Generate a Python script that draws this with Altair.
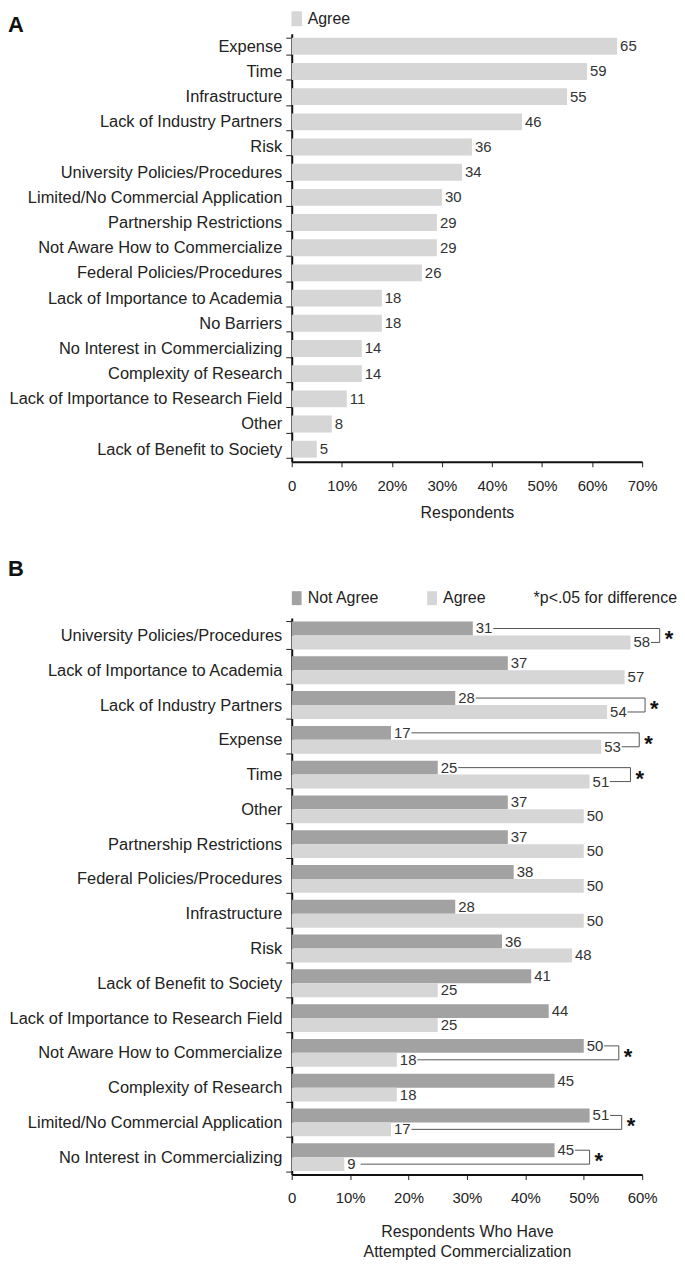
import altair as alt
import pandas as pd

# ---------------- Panel A data ----------------
a_categories = [
    "Expense", "Time", "Infrastructure", "Lack of Industry Partners", "Risk",
    "University Policies/Procedures", "Limited/No Commercial Application",
    "Partnership Restrictions", "Not Aware How to Commercialize",
    "Federal Policies/Procedures", "Lack of Importance to Academia", "No Barriers",
    "No Interest in Commercializing", "Complexity of Research",
    "Lack of Importance to Research Field", "Other", "Lack of Benefit to Society",
]
a_values = [65, 59, 55, 46, 36, 34, 30, 29, 29, 26, 18, 18, 14, 14, 11, 8, 5]

# ---------------- Panel B data ----------------
b_categories = [
    "University Policies/Procedures", "Lack of Importance to Academia",
    "Lack of Industry Partners", "Expense", "Time", "Other",
    "Partnership Restrictions", "Federal Policies/Procedures", "Infrastructure",
    "Risk", "Lack of Benefit to Society", "Lack of Importance to Research Field",
    "Not Aware How to Commercialize", "Complexity of Research",
    "Limited/No Commercial Application", "No Interest in Commercializing",
]
b_not_agree = [31, 37, 28, 17, 25, 37, 37, 38, 28, 36, 41, 44, 50, 45, 51, 45]
b_agree = [58, 57, 54, 53, 51, 50, 50, 50, 50, 48, 25, 25, 18, 18, 17, 9]
b_significant = [True, False, True, True, True, False, False, False, False,
                 False, False, False, True, False, True, True]
b_bracket = [63, None, 60.5, 59.5, 58, None, None, None, None,
             None, None, None, 56, None, 56.5, 51]
groups = ["Not Agree", "Agree"]

FONT = "Liberation Sans"
TXT = "#222222"

# ---------------- Panel A ----------------
df_a = pd.DataFrame({"cat": a_categories, "value": a_values, "key": "Agree"})

rect_path = "M-0.7,-1H0.7V1H-0.7Z"

ya = alt.Y("cat:N", sort=a_categories,
           scale=alt.Scale(paddingInner=0.33, paddingOuter=0.165),
           axis=alt.Axis(title=None, tickBand="extent"))
xa = alt.X("value:Q", scale=alt.Scale(domain=[0, 70], nice=False),
           axis=alt.Axis(values=list(range(0, 71, 10)),
                         labelExpr="datum.value == 0 ? '0' : datum.value + '%'",
                         title="Respondents", grid=False, labelPadding=12, titlePadding=11))

bars_a = alt.Chart(df_a).mark_bar().encode(
    x=xa, y=ya,
    color=alt.Color("key:N", scale=alt.Scale(domain=["Agree"], range=["#d6d6d6"]),
                    legend=alt.Legend(title=None, orient="none", legendX=-3, legendY=-23,
                                      direction="horizontal", symbolType=rect_path,
                                      symbolSize=225, labelOffset=3)),
)
labels_a = alt.Chart(df_a).mark_text(align="left", baseline="middle", dx=3, fontSize=15,
                                     font=FONT, color="#333333").encode(
    x="value:Q", y=alt.Y("cat:N", sort=a_categories), text="value:Q")
letter_a = alt.Chart(pd.DataFrame({"t": ["A"]})).mark_text(
    align="left", baseline="middle", fontSize=22, fontWeight="bold", font=FONT, color="#111111"
).encode(text="t:N", x=alt.value(-285), y=alt.value(-9))

panel_a = alt.layer(bars_a, labels_a, letter_a).properties(width=352, height=430)

# ---------------- Panel B ----------------
rows = []
for c, na, ag in zip(b_categories, b_not_agree, b_agree):
    rows.append({"cat": c, "group": "Not Agree", "value": na})
    rows.append({"cat": c, "group": "Agree", "value": ag})
df_b = pd.DataFrame(rows)

hl, vl = [], []
for c, na, ag, sig, bx in zip(b_categories, b_not_agree, b_agree, b_significant, b_bracket):
    if not sig:
        continue
    for g, v in (("Not Agree", na), ("Agree", ag)):
        hl.append({"cat": c, "group": g, "start": v + 2.1 + 0.7 * len(str(v)), "end": bx})
    vl.append({"cat": c, "bx": bx, "star": "*"})
df_h = pd.DataFrame(hl)
df_v = pd.DataFrame(vl)

yb = alt.Y("cat:N", sort=b_categories,
           scale=alt.Scale(paddingInner=0.2, paddingOuter=0.1),
           axis=alt.Axis(title=None, tickBand="extent"))
yoff = alt.YOffset("group:N", sort=groups,
                   scale=alt.Scale(domain=groups, paddingInner=0, paddingOuter=0))
xb = alt.X("value:Q", scale=alt.Scale(domain=[0, 60], nice=False),
           axis=alt.Axis(values=list(range(0, 61, 10)),
                         labelExpr="datum.value == 0 ? '0' : datum.value + '%'",
                         title=["Respondents Who Have", "Attempted Commercialization"],
                         titleLineHeight=20, grid=False, labelPadding=11, titlePadding=18))

bars_b = alt.Chart(df_b).mark_bar().encode(
    x=xb, y=yb, yOffset=yoff,
    color=alt.Color("group:N", sort=groups,
                    scale=alt.Scale(domain=groups, range=["#a2a2a2", "#d6d6d6"]),
                    legend=alt.Legend(title=None, orient="none", legendX=-3, legendY=-28,
                                      direction="horizontal", symbolType=rect_path,
                                      symbolSize=196, labelOffset=3, columnPadding=44)),
)
labels_b = alt.Chart(df_b).mark_text(align="left", baseline="middle", dx=3, fontSize=15,
                                     font=FONT, color="#333333").encode(
    x="value:Q", y=alt.Y("cat:N", sort=b_categories), yOffset=yoff, text="value:Q")
hlines = alt.Chart(df_h).mark_rule(color="#555555", strokeWidth=1).encode(
    x="start:Q", x2="end:Q", y=alt.Y("cat:N", sort=b_categories), yOffset=yoff)
vlines = alt.Chart(df_v).mark_rule(color="#555555", strokeWidth=1, yOffset=-7, y2Offset=7).encode(
    x="bx:Q", y=alt.Y("cat:N", sort=b_categories), y2="cat")
stars = alt.Chart(df_v).mark_text(align="left", baseline="middle", dx=5, dy=4, fontSize=22,
                                  fontWeight="bold", font=FONT, color="#111111").encode(
    x="bx:Q", y=alt.Y("cat:N", sort=b_categories), text="star:N")
note_b = alt.Chart(pd.DataFrame({"t": ["*p<.05 for difference"]})).mark_text(
    align="right", baseline="middle", fontSize=16, font=FONT, color=TXT
).encode(text="t:N", x=alt.value(387), y=alt.value(-20))
letter_b = alt.Chart(pd.DataFrame({"t": ["B"]})).mark_text(
    align="left", baseline="middle", fontSize=22, fontWeight="bold", font=FONT, color="#111111"
).encode(text="t:N", x=alt.value(-285), y=alt.value(-49))

panel_b = alt.layer(bars_b, labels_b, hlines, vlines, stars, note_b, letter_b).properties(
    width=352, height=559)

chart = alt.vconcat(panel_a, panel_b, spacing=38).resolve_scale(
    color="independent", y="independent", x="independent", yOffset="independent"
).properties(padding={"left": 0, "top": 0, "right": 0, "bottom": 0}).configure_view(
    stroke=None
).configure_axis(
    labelFont=FONT, titleFont=FONT, labelColor=TXT, titleColor=TXT,
    domainColor="#111111", domainWidth=2, tickColor="#222222", tickWidth=1,
    labelLimit=0,
).configure_axisY(
    labelFontSize=16.5, tickSize=6, labelPadding=4,
).configure_axisX(
    labelFontSize=15, tickSize=5, titleFontSize=16, labelFlush=False,
    titleFontWeight="normal", labelOverlap=False,
).configure_legend(
    labelFont=FONT, labelFontSize=16, labelColor=TXT, symbolStrokeWidth=0,
)

chart.save("out.html", embed_options={"renderer": "svg", "actions": False})
